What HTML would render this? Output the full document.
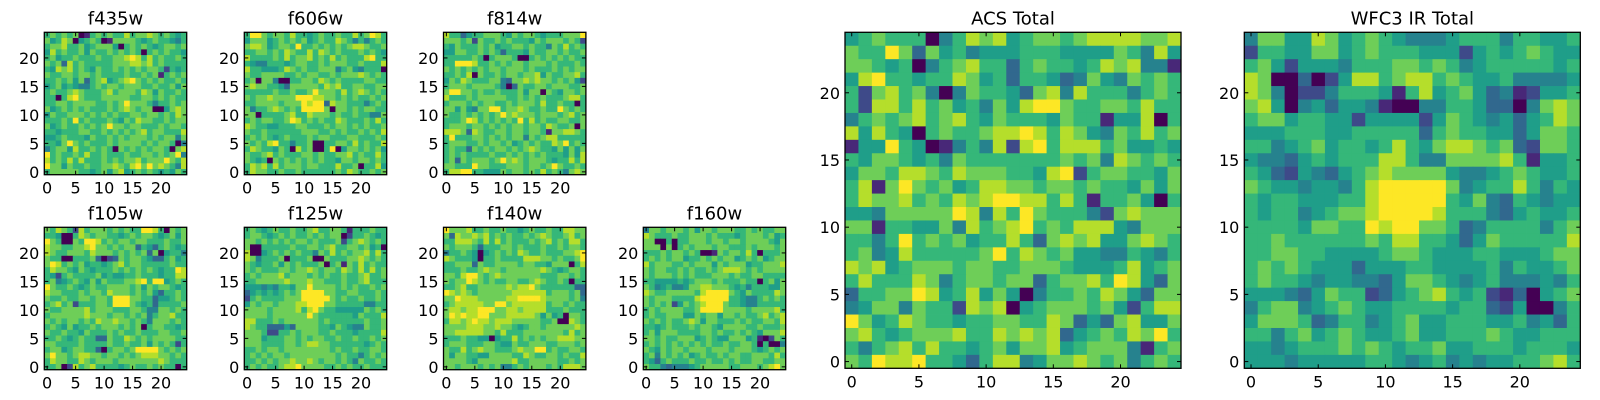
<!DOCTYPE html>
<html><head><meta charset="utf-8"><style>
html,body{margin:0;padding:0;background:#fff;}
svg{display:block;font-family:"DejaVu Sans","Liberation Sans",sans-serif;}
</style></head><body>
<svg id="fig" width="1600" height="400" viewBox="0 0 1600 400" xmlns="http://www.w3.org/2000/svg"></svg>
<script>
// Data: each row string lists 25 cell intensities (0-9), top row (y=24) first.
const f435w = ["6767670167676686778767656","7568705676017777656766546","6778667567775067676567767","5867667576676767606767665","6756676667667789868676676","7673867666667778878676666","6587867657667676767762656","7667767767666676676716767","6676757367856789767676676","5675654467677677766766757","6766787666786777687576676","6606897666777776677676766","6677677776676797776466767","7567676766676787677005787","5766777676767667767767687","6667696766676576877667677","7567667676797767766676776","6656667766767676786776668","5567666576676767776767747","6657976766676777767677604","4677586676760767676776078","9676676866766676677676794","8676868666767677867779768","9775766766778768979787648","6777776656757856767656576"];
const f606w = ["6997677686656766766867986","5777567676756766876464676","7887567769667676767887667","6677676876686876766676765","8666676867786768676668966","6544666567766767776676668","8665556876766777467546660","7667777667677667677787676","6707740066776876766667766","7877665377777687866776677","6666676676679777686787676","7677877779998877676766767","6677776777989938776664676","7466787676999970776767766","7706666786687776766766447","6767766798676766876667686","8766556667766676776767667","7667666666777667676676768","6767656766676776667766676","7676896646670066776867668","6876657608670069057767675","7667867666776766778676686","7656076767676766577677676","6878686777677666866706685","6877667667666666768766767"];
const f814w = ["8663566777657677656667779","7776727667676665767776762","6576667675667767664768676","5577667676366657667767667","6666676067776006767676766","6699986676767767776766676","7676767677677767666767677","6676807667677677857667786","5768766677437787877676752","6777677776403766776777667","7997767667666757707657767","8666767777766767676667886","6777676776676777686676606","7757547799677876676697676","7667676767978777677767867","6667986767676968676677667","6777677676767767768766707","8887387667767767761778876","6966677676767747678866666","6777667677675676766879676","6766376767767678766575757","6767666676676767676665758","6737677767978767776566868","7766697766677767767976676","6889966555767767686764787"];
const f105w = ["7687628677767676699860767","6650068767766567677656757","9760076998676776776667667","8776677897767677365367656","8766777687776767673705664","7660066673023767765336756","7986767566567867766666766","6877657656667676767656698","6526766667565566766656688","6745676575766677896995676","9766765676677776757677656","8776667677687776767536676","7667667767769997766355676","6786726667769997656366667","7667777867776667764477676","6777777877767767674677866","7676776768778776764777676","6765756676777676706776656","7667665766676766766677667","6676567663376687676777766","7766667666676676675767626","6775677663067767999976767","7977678877677676788877676","6877668767776777777787666","6670286786666567667676606"];
const f125w = ["6765676676678667761666766","6776567676676767702667656","7767676767767666726787676","7006666676677678667767560","8005676767664768676778686","8746667066670076667787676","7656675767666706717686766","7676667767787677687686867","6767778677767676676678667","6677777877787766676678666","5554546657797777676766767","3565656767999977667766676","2676666777999997676676676","5767767778899977666664466","7777677778689766555557676","7777677777797666666576668","8866676777777676666667667","8766333537777665765447667","7776226676777667666566668","7775666776767766766766767","7776666776788776666665676","6676776777777776766766776","6767677677777777676646767","6676767787787677676476676","6767667889777766767667666"];
const f140w = ["9777866766766567667668877","7387787867676676787667867","6688876868676667678676886","7677763666776766676676776","4667650567676876676667789","8766650667666688877676679","6677737667777677665777068","6667667877677777787656776","7768997678777777766677676","7677987676677667876676066","6678667777787889766666633","9878767777778888886777673","7798887777788999987777674","6788888779978888886776766","7887889997788788886667666","7989889977788888757560776","6887898878887777766700876","7777888778776567767777787","7788888776866677777776867","6667665505668676767788877","6777666776557667776677767","7668678776667877996766776","7577665577776687667767668","7777657777778667777766767","7767776767446767776768887"];
const f160w = ["4776777675776777667676677","8766676677767666567776756","7700606677767767767777657","7770706767776776667677767","6667677676001767768606667","6767677566767677567675677","8677766767775767775667778","7677667676676788876767777","7677767676667776766776666","6655556567776766676606757","7645644577887776564666557","8766777776899997657666687","7677766668999996654467676","7676725767899976654466666","6767777667999977776777786","6766777557677577676678678","7676766787577666767667768","6656766676776577776676667","6757776666776766767657778","7767667775676557775610276","6767676767676676677606004","7657677677767776777656767","6747676756766767766777686","6536766676676676766776677","7664344456777776677767897"];
const acsTotal = ["5676660468785677678888778","7669737564555666555576485","7765604678663676656878441","5896656687563665347547676","6278674047665378486664676","6288686756475899766776866","4676786786576665766155806","8586506766788986875476867","1559650146482896888675565","6577656476666666767487676","5776887687776658926776657","6817976756887767767665757","6877867687899886861667506","5547777798486976664278777","7716655748678967688854777","6646967675668637878557876","6745866666796876755446546","8785677767766777655568567","6866687467767736778698537","3667798568575046676875377","4577476628780567776752688","9756876656677668735378557","7865677786687878356768796","6467868665675778567774167","7698896653688457787674676"];
const wfc3Total = ["4775587567654445666466556","2665577567666555256567655","6752555466677676456666656","8700302588678867655644445","8740224666516856753412556","7850453554100446653304787","6775665525555257654535687","5556665566666367665535776","6645675665686578876732776","5443565666886447777861556","6532543567877775445676556","7655455468999997456686465","6566555668999996574365455","6566456778999986664356556","6666577669899776346666467","6676666667688665357666668","6677665555677655566555677","6767655535556655556465567","6766545544357765456444546","5554357662356786562130567","4677456765566665663250046","5777634664567556665564536","6646756765567556667655666","5545666767656675566656665","5554555556654564545566786"];

const panelTitles = ["f435w","f606w","f814w","f105w","f125w","f140w","f160w","ACS Total","WFC3 IR Total"];
const panelData = [f435w,f606w,f814w,f105w,f125w,f140w,f160w,acsTotal,wfc3Total];
const tickValues = [0,5,10,15,20];

const viridis = ["#440154","#482878","#3e4a89","#31688e","#26828e","#1f9e89","#35b779","#6ece58","#b5de2b","#fde725"];
function colorFor(v){return viridis[Math.max(0,Math.min(9,Math.round(v)))];}

const layout = [
  {x:44.3,y:32.3,s:142.4,fs:16,tfs:18},
  {x:244.3,y:32.3,s:142.4,fs:16,tfs:18},
  {x:443.5,y:32.3,s:142.4,fs:16,tfs:18},
  {x:44.3,y:227.3,s:142.4,fs:16,tfs:18},
  {x:244.3,y:227.3,s:142.4,fs:16,tfs:18},
  {x:443.5,y:227.3,s:142.4,fs:16,tfs:18},
  {x:643.3,y:227.3,s:142.4,fs:16,tfs:18},
  {x:845,y:32.3,s:336,fs:16,tfs:18},
  {x:1244.3,y:32.3,s:336,fs:16,tfs:18}
];
const NS="http://www.w3.org/2000/svg";
const svg=document.getElementById("fig");
function mk(tag,attrs,parent){const e=document.createElementNS(NS,tag);for(const k in attrs)e.setAttribute(k,attrs[k]);(parent||svg).appendChild(e);return e;}

panelData.forEach((rows,p)=>{
  const L=layout[p];
  const n=25, cw=L.s/n;
  const xScale=v=>L.x+(v+0.5)*cw;
  const yScale=v=>L.y+(n-0.5-v)*cw;
  const g=mk("g",{});
  
  
  rows.forEach((row,ri)=>{
    const yv=n-1-ri;
    for(let c=0;c<n;c++){
      const v=+row[c];
      const r=mk("rect",{x:(xScale(c)-cw/2).toFixed(2),y:(yScale(yv)-cw/2).toFixed(2),width:(cw+0.4).toFixed(2),height:(cw+0.4).toFixed(2),fill:colorFor(v)},g);
      
      
    }
  });
  const frame=mk("rect",{x:L.x,y:L.y,width:L.s,height:L.s,fill:"none",stroke:"#000","stroke-width":1.3},g);
  
  
  tickValues.forEach(t=>{
    const tx=xScale(t), ty=yScale(t);
    mk("line",{x1:tx,y1:L.y+L.s,x2:tx,y2:L.y+L.s-4,stroke:"#000","stroke-width":1},g);
    mk("line",{x1:tx,y1:L.y,x2:tx,y2:L.y+4,stroke:"#000","stroke-width":1},g);
    mk("line",{x1:L.x,y1:ty,x2:L.x+4,y2:ty,stroke:"#000","stroke-width":1},g);
    mk("line",{x1:L.x+L.s,y1:ty,x2:L.x+L.s-4,y2:ty,stroke:"#000","stroke-width":1},g);
    const xl=mk("text",{x:tx,y:L.y+L.s+19,"font-size":L.fs,"text-anchor":"middle",fill:"#000"},g);
    xl.textContent=t;
    
    
    const yl=mk("text",{x:L.x-5,y:ty+6,"font-size":L.fs,"text-anchor":"end",fill:"#000"},g);
    yl.textContent=t;
    
    
  });
  const title=mk("text",{x:L.x+L.s/2,y:L.y-8,"font-size":L.tfs,"text-anchor":"middle",fill:"#000"},g);
  title.textContent=panelTitles[p];
  
  
});
</script>
</body></html>
